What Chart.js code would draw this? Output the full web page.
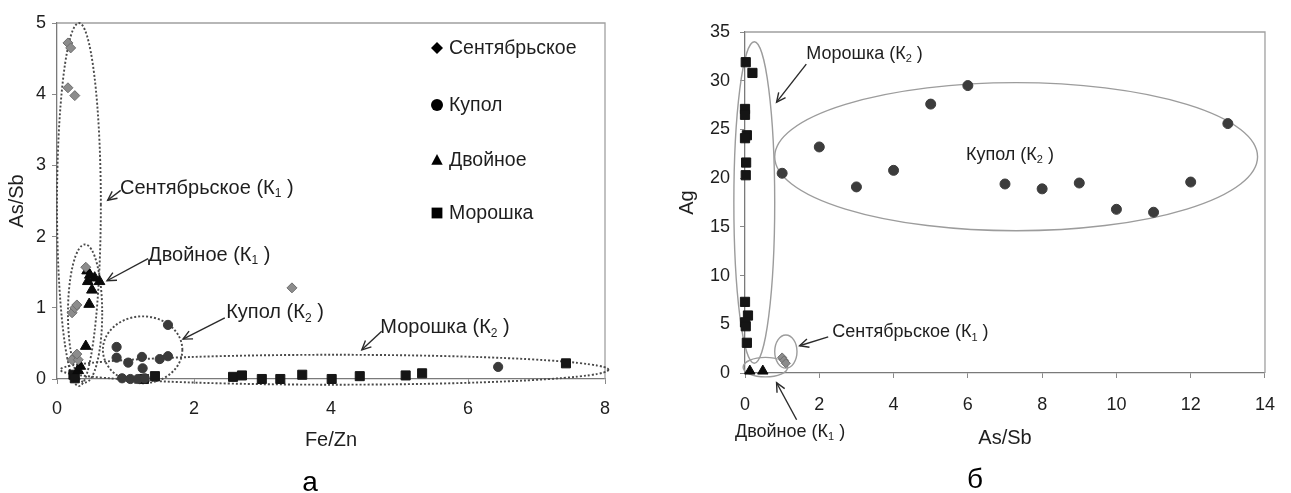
<!DOCTYPE html>
<html><head><meta charset="utf-8">
<script src="https://cdn.jsdelivr.net/npm/chart.js@4"></script>
<style>
html,body{margin:0;padding:0;background:#fff;width:1291px;height:493px;overflow:hidden}
#ca{position:absolute;left:0;top:0}
#cb{position:absolute;left:645px;top:0}
</style></head><body>
<canvas id="ca" width="645" height="493"></canvas>
<canvas id="cb" width="646" height="493"></canvas>
<script>
// ---- data ----
const SERIES = ['Сентябрьское','Купол','Двойное','Морошка'];

// chart а : Fe/Zn (x) vs As/Sb (y)
const A_SENT_X = [0.16,0.20,0.16,0.26,0.42,0.22,0.26,0.29,0.26,0.22,0.31,0.29,3.43];
const A_SENT_Y = [4.72,4.65,4.09,3.98,1.57,0.93,1.00,1.04,0.31,0.27,0.27,0.35,1.28];
const A_KUP_X  = [1.62,0.87,0.87,1.04,1.24,1.50,1.62,1.25,0.95,1.07,1.18,1.28,6.44];
const A_KUP_Y  = [0.76,0.45,0.30,0.23,0.31,0.28,0.32,0.15,0.01,0.00,0.00,0.01,0.17];
const A_DVO_X  = [0.44,0.48,0.55,0.62,0.45,0.51,0.47,0.42,0.34,0.31];
const A_DVO_Y  = [1.52,1.46,1.42,1.37,1.37,1.25,1.05,0.46,0.18,0.12];
const A_MOR_X  = [0.24,0.26,1.27,1.43,2.57,2.70,2.99,3.26,3.58,4.01,4.42,5.09,5.33,7.43];
const A_MOR_Y  = [0.06,0.01,0.00,0.04,0.03,0.05,0.00,0.00,0.06,0.00,0.04,0.05,0.08,0.22];
const A_X_TICKS = [0,2,4,6,8];
const A_Y_TICKS = [0,1,2,3,4,5];

// chart б : As/Sb (x) vs Ag (y)
const B_SENT_X = [1.00,1.05,1.10];
const B_SENT_Y = [1.6,1.3,1.0];
const B_KUP_X  = [1,2,3,4,5,6,7,8,9,10,11,12,13];
const B_KUP_Y  = [20.5,23.2,19.1,20.8,27.6,29.5,19.4,18.9,19.5,16.8,16.5,19.6,25.6];
const B_DVO_X  = [0.13,0.48];
const B_DVO_Y  = [0.2,0.2];
const B_MOR_X  = [0.02,0.20,0.00,0.00,0.05,0.00,0.03,0.02,0.00,0.08,0.00,0.02,0.05];
const B_MOR_Y  = [31.9,30.8,27.1,26.5,24.4,24.1,21.6,20.3,7.3,5.9,5.2,4.8,3.1];
const B_X_TICKS = [0,2,4,6,8,10,12,14];
const B_Y_TICKS = [0,5,10,15,20,25,30,35];

// ---- helpers ----
const FONT = "Arial, 'Liberation Sans', sans-serif";
const TXT = '#1e1e1e';
function pts(xs, ys){ return xs.map((x,i)=>({x:x, y:ys[i]})); }
function ds(label, xs, ys, style, color, r, edge){
  return {label, data:pts(xs,ys), pointStyle:style, backgroundColor:color,
    borderColor:edge||color, borderWidth:1, pointRadius:r, pointHoverRadius:r,
    showLine:false, clip:false};
}
function axis(ticksArr, title, o){
  return {
    type:'linear', position:o.pos, min:ticksArr[0], max:ticksArr[ticksArr.length-1],
    afterBuildTicks:s=>{ s.ticks = ticksArr.map(v=>({value:v})); },
    afterFit:s=>{ if(o.pos==='bottom') s.height=o.size; else s.width=o.size; },
    grid:{drawOnChartArea:false, drawTicks:true, tickLength:5, color:'#8a8a8a'},
    border:{display:true, color:'#7a7a7a', width:1.3},
    ticks:{font:{family:FONT,size:18}, color:TXT, padding:o.tpad, maxRotation:0, autoSkip:false},
    title:{display:true, text:title, font:{family:FONT,size:20}, color:TXT, padding:o.titlePad}
  };
}
function marker(ctx, style, x, y, s){
  ctx.beginPath();
  if(style==='rectRot'){ ctx.moveTo(x,y-s); ctx.lineTo(x+s,y); ctx.lineTo(x,y+s); ctx.lineTo(x-s,y); ctx.closePath(); }
  else if(style==='circle'){ ctx.arc(x,y,s,0,Math.PI*2); }
  else if(style==='triangle'){ ctx.moveTo(x,y-s); ctx.lineTo(x+s*0.95,y+s*0.8); ctx.lineTo(x-s*0.95,y+s*0.8); ctx.closePath(); }
  else { ctx.rect(x-s*0.9,y-s*0.9,s*1.8,s*1.8); }
  ctx.fill();
}
function subLabel(ctx, x, y, main, sub, size){
  ctx.textBaseline='middle'; ctx.textAlign='left'; ctx.fillStyle=TXT;
  ctx.font = size+'px '+FONT; ctx.fillText(main, x, y);
  let w = ctx.measureText(main).width;
  ctx.font = Math.round(size*0.62)+'px '+FONT; ctx.fillText(sub, x+w, y+size*0.3);
  w += ctx.measureText(sub).width;
  ctx.font = size+'px '+FONT; ctx.fillText(' )', x+w, y);
}
function arrow(ctx, x1,y1,x2,y2){
  ctx.beginPath(); ctx.moveTo(x1,y1); ctx.lineTo(x2,y2); ctx.stroke();
  const a=Math.atan2(y2-y1,x2-x1), L=10, h=0.45;
  ctx.beginPath();
  ctx.moveTo(x2-L*Math.cos(a-h), y2-L*Math.sin(a-h));
  ctx.lineTo(x2,y2);
  ctx.lineTo(x2-L*Math.cos(a+h), y2-L*Math.sin(a+h));
  ctx.stroke();
}

const deco = {
  id:'deco',
  beforeDatasetsDraw(chart, args, o){
    const {ctx, chartArea:a, scales:{x,y}} = chart;
    ctx.save();
    // frame top/right
    ctx.strokeStyle='#a0a0a0'; ctx.lineWidth=1.3; ctx.setLineDash([]);
    ctx.beginPath(); ctx.moveTo(a.left,a.top); ctx.lineTo(a.right,a.top); ctx.lineTo(a.right,a.bottom); ctx.stroke();
    // ellipses
    ctx.strokeStyle=o.eColor; ctx.lineWidth=o.eWidth; ctx.setLineDash(o.eDash);
    o.ellipses.forEach(e=>{
      const cx=x.getPixelForValue(e.c[0]), cy=y.getPixelForValue(e.c[1]);
      const rx=Math.abs(x.getPixelForValue(e.c[0]+e.r[0])-cx);
      const ry=Math.abs(y.getPixelForValue(e.c[1]+e.r[1])-cy);
      ctx.beginPath(); ctx.ellipse(cx,cy,rx,ry,e.rot||0,0,Math.PI*2); ctx.stroke();
    });
    ctx.restore();
  },
  afterDraw(chart, args, o){
    const {ctx, chartArea:a, scales:{x,y}} = chart;
    ctx.save();
    ctx.setLineDash([]); ctx.strokeStyle='#2a2a2a'; ctx.lineWidth=1.4;
    o.arrows.forEach(r=>arrow(ctx, x.getPixelForValue(r[0]), y.getPixelForValue(r[1]), x.getPixelForValue(r[2]), y.getPixelForValue(r[3])));
    o.labels.forEach(l=>subLabel(ctx, x.getPixelForValue(l.x), y.getPixelForValue(l.y), l.main, l.sub, o.labelSize));
    // panel letter
    ctx.fillStyle='#000'; ctx.font='28px '+FONT; ctx.textAlign='center'; ctx.textBaseline='middle';
    ctx.fillText(o.letter, (a.left+a.right)/2+o.letterDx, o.letterY);
    // legend
    if(o.legend){
      chart.data.datasets.forEach((d,i)=>{
        const yy = a.top + o.legend.rows[i];
        ctx.fillStyle='#000';
        marker(ctx, d.pointStyle, a.right+o.legend.dx, yy, 6);
        ctx.font='19.5px '+FONT; ctx.textAlign='left'; ctx.textBaseline='middle'; ctx.fillStyle=TXT;
        ctx.fillText(d.label, a.right+o.legend.dx+12, yy+1);
      });
    }
    ctx.restore();
  }
};

// ---- chart а ----
new Chart(document.getElementById('ca'), {
  type:'scatter',
  data:{datasets:[
    ds(SERIES[0], A_SENT_X, A_SENT_Y, 'rectRot', '#8c8c8c', 5, '#6e6e6e'),
    ds(SERIES[1], A_KUP_X, A_KUP_Y, 'circle', '#3a3a3a', 4.6),
    ds(SERIES[2], A_DVO_X, A_DVO_Y, 'triangle', '#0a0a0a', 6.2),
    ds(SERIES[3], A_MOR_X, A_MOR_Y, 'rect', '#151515', 6.4)
  ]},
  options:{
    responsive:false, animation:false, events:[],
    layout:{padding:{left:0, top:23, right:40, bottom:41}},
    scales:{
      x: axis(A_X_TICKS, 'Fe/Zn', {pos:'bottom', size:73, tpad:14, titlePad:{top:0,bottom:0}}),
      y: axis(A_Y_TICKS, 'As/Sb', {pos:'left', size:57, tpad:6, titlePad:{top:5,bottom:0}})
    },
    plugins:{
      legend:{display:false}, tooltip:{enabled:false},
      deco:{
        eColor:'#4a4a4a', eWidth:1.9, eDash:[2,2],
        ellipses:[
          {c:[0.32,2.45], r:[0.32,2.55]},
          {c:[0.41,0.92], r:[0.25,0.97]},
          {c:[1.25,0.41], r:[0.58,0.47]},
          {c:[4.05,0.13], r:[4.0,0.21]}
        ],
        arrows:[[0.93,2.65,0.74,2.51],[1.33,1.69,0.73,1.38],[2.45,0.86,1.84,0.56],[4.74,0.67,4.45,0.41]],
        labels:[
          {x:0.92,y:2.68,main:'Сентябрьское (К',sub:'1'},
          {x:1.33,y:1.74,main:'Двойное (К',sub:'1'},
          {x:2.47,y:0.93,main:'Купол (К',sub:'2'},
          {x:4.72,y:0.72,main:'Морошка (К',sub:'2'}
        ],
        labelSize:20,
        letter:'а', letterDx:-21, letterY:483,
        legend:{dx:-168, rows:[25,82,137,190]}
      }
    }
  },
  plugins:[deco]
});

// ---- chart б ----
new Chart(document.getElementById('cb'), {
  type:'scatter',
  data:{datasets:[
    ds(SERIES[0], B_SENT_X, B_SENT_Y, 'rectRot', '#8c8c8c', 4.5, '#6e6e6e'),
    ds(SERIES[1], B_KUP_X, B_KUP_Y, 'circle', '#3c3c3c', 5),
    ds(SERIES[2], B_DVO_X, B_DVO_Y, 'triangle', '#0a0a0a', 6),
    ds(SERIES[3], B_MOR_X, B_MOR_Y, 'rect', '#151515', 6.5)
  ]},
  options:{
    responsive:false, animation:false, events:[],
    layout:{padding:{left:0, top:32, right:21, bottom:43}},
    scales:{
      x: axis(B_X_TICKS, 'As/Sb', {pos:'bottom', size:77, tpad:16, titlePad:{top:0,bottom:0}}),
      y: axis(B_Y_TICKS, 'Ag', {pos:'left', size:100, tpad:10, titlePad:{top:30,bottom:0}})
    },
    plugins:{
      legend:{display:false}, tooltip:{enabled:false},
      deco:{
        eColor:'#9c9c9c', eWidth:1.4, eDash:[],
        ellipses:[
          {c:[0.25,17.5], r:[0.55,16.5]},
          {c:[7.3,22.2], r:[6.5,7.6]},
          {c:[1.1,2.2], r:[0.3,1.7]},
          {c:[0.55,0.6], r:[0.6,1.0]}
        ],
        arrows:[[1.65,31.7,0.85,27.8],[2.24,3.7,1.47,2.8],[1.39,-4.8,0.85,-1.0]],
        labels:[
          {x:1.65,y:32.75,main:'Морошка (К',sub:'2'},
          {x:5.95,y:22.4,main:'Купол (К',sub:'2'},
          {x:2.35,y:4.2,main:'Сентябрьское (К',sub:'1'},
          {x:-0.27,y:-6.06,main:'Двойное (К',sub:'1'}
        ],
        labelSize:18,
        letter:'б', letterDx:-30, letterY:480,
        legend:null
      }
    }
  },
  plugins:[deco]
});
</script>
</body></html>
